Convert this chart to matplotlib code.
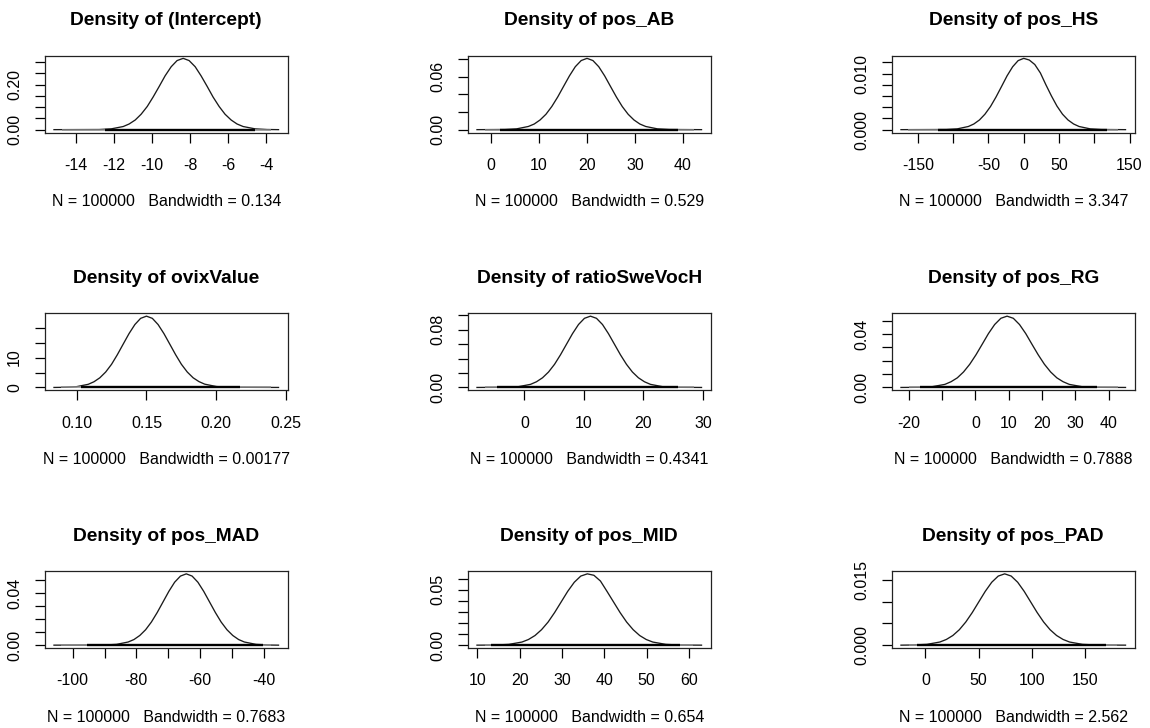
import matplotlib
matplotlib.use("Agg")
import matplotlib.pyplot as plt

plt.rcParams['font.family'] = ['Liberation Sans', 'DejaVu Sans']

# ---------------- data ----------------
titles = ["Density of (Intercept)", "Density of pos_AB", "Density of pos_HS",
          "Density of ovixValue", "Density of ratioSweVocH", "Density of pos_RG",
          "Density of pos_MAD", "Density of pos_MID", "Density of pos_PAD"]
n_iter = 100000
bandwidths = ["0.134", "0.529", "3.347", "0.00177", "0.4341", "0.7888",
              "0.7683", "0.654", "2.562"]

intercept_x = [-15.16, -12.78, -12.15, -11.52, -11.21, -10.89, -10.58, -10.26, -9.95, -9.63,
               -9.32, -9.00, -8.69, -8.37, -8.06, -7.74, -7.43, -7.11, -6.80, -6.48,
               -6.17, -5.85, -5.54, -5.22, -4.59, -3.96, -3.36]
intercept_y = [0.0, 0.0007, 0.0035, 0.0139, 0.0252, 0.0429, 0.0686, 0.1029, 0.1451, 0.1923,
               0.2393, 0.2798, 0.3072, 0.317, 0.3072, 0.2798, 0.2393, 0.1923, 0.1451, 0.1029,
               0.0686, 0.0429, 0.0252, 0.0139, 0.0035, 0.0007, 0.0]

ab_x = [-2.97, 2.85, 5.30, 7.75, 8.98, 10.20, 11.43, 12.65, 13.88, 15.10, 16.33, 17.55, 18.78,
        20.00, 21.23, 22.45, 23.68, 24.90, 26.13, 27.35, 28.58, 29.80, 31.03, 32.25, 34.70,
        37.15, 43.90]
ab_y = [0.0, 0.0002, 0.0009, 0.0036, 0.0064, 0.0110, 0.0175, 0.0263, 0.0371, 0.0491, 0.0611,
        0.0715, 0.0785, 0.0810, 0.0785, 0.0715, 0.0611, 0.0491, 0.0371, 0.0263, 0.0175,
        0.0110, 0.0064, 0.0036, 0.0009, 0.0002, 0.0]

hs_x = [-174.0, -109.9, -94.2, -78.5, -70.7, -62.8, -55.0, -47.1, -39.3, -31.4, -23.6, -15.7,
        -7.9, 0.0, 7.9, 15.7, 23.6, 31.4, 39.3, 47.1, 55.0, 62.8, 70.7, 78.5, 94.2, 109.9, 144.3]
hs_y = [0.0, 0.00003, 0.00014, 0.00056, 0.00101, 0.00172, 0.00275, 0.00412, 0.00581, 0.0077,
        0.00959, 0.0112, 0.0123, 0.0127, 0.0124, 0.0116, 0.0101, 0.0080, 0.0060, 0.0042,
        0.00275, 0.00172, 0.00101, 0.00056, 0.00014, 0.00003, 0.0]

ovix_x = [0.0838, 0.0916, 0.0999, 0.1083, 0.1124, 0.1166, 0.1208, 0.1250, 0.1291, 0.1333,
          0.1375, 0.1417, 0.1458, 0.1500, 0.1542, 0.1583, 0.1625, 0.1667, 0.1709, 0.1750,
          0.1792, 0.1834, 0.1876, 0.1917, 0.2001, 0.2084, 0.2445]
ovix_y = [0.0, 0.05, 0.26, 1.05, 1.90, 3.23, 5.17, 7.76, 10.94, 14.50, 18.04, 21.09, 23.16,
          23.90, 23.16, 21.09, 18.04, 14.50, 10.94, 7.76, 5.17, 3.23, 1.95, 1.10, 0.30, 0.06, 0.0]

swe_x = [-7.97, -3.00, -0.99, 1.03, 2.03, 3.04, 4.05, 5.06, 6.06, 7.07, 8.08, 9.09, 10.09,
         11.10, 12.11, 13.12, 14.12, 15.13, 16.14, 17.15, 18.15, 19.16, 20.17, 21.18, 23.19,
         25.21, 29.76]
swe_y = [0.0, 0.0002, 0.0011, 0.0043, 0.0079, 0.0134, 0.0214, 0.0321, 0.0453, 0.0600, 0.0747,
         0.0874, 0.0960, 0.0990, 0.0960, 0.0874, 0.0747, 0.0600, 0.0453, 0.0321, 0.0214,
         0.0134, 0.0079, 0.0043, 0.0011, 0.0002, 0.0]

rg_x = [-22.30, -16.61, -12.88, -9.15, -7.29, -5.42, -3.56, -1.69, 0.18, 2.04, 3.91, 5.77,
        7.64, 9.50, 11.37, 13.23, 15.10, 16.96, 18.83, 20.69, 22.56, 24.42, 26.29, 28.15,
        31.88, 35.61, 45.00]
rg_y = [0.0, 0.0001, 0.0006, 0.0023, 0.0043, 0.0072, 0.0116, 0.0174, 0.0245, 0.0324, 0.0404,
        0.0472, 0.0519, 0.0535, 0.0519, 0.0472, 0.0404, 0.0324, 0.0245, 0.0174, 0.0116,
        0.0072, 0.0043, 0.0023, 0.0006, 0.0001, 0.0]

mad_x = [-105.90, -89.89, -86.23, -82.58, -80.75, -78.92, -77.09, -75.27, -73.44, -71.61,
         -69.78, -67.96, -66.13, -64.30, -62.47, -60.65, -58.82, -56.99, -55.16, -53.34,
         -51.51, -49.68, -47.85, -46.03, -42.37, -38.72, -35.30]
mad_y = [0.0, 0.0001, 0.0006, 0.0024, 0.0043, 0.0074, 0.0118, 0.0177, 0.0250, 0.0331, 0.0412,
         0.0482, 0.0529, 0.0546, 0.0529, 0.0482, 0.0412, 0.0331, 0.0250, 0.0177, 0.0118,
         0.0074, 0.0043, 0.0024, 0.0006, 0.0001, 0.0]

mid_x = [9.90, 14.33, 17.43, 20.53, 22.07, 23.62, 25.17, 26.72, 28.26, 29.81, 31.36, 32.91,
         34.45, 36.00, 37.55, 39.10, 40.64, 42.19, 43.74, 45.29, 46.83, 48.38, 49.93, 51.48,
         54.57, 57.67, 63.00]
mid_y = [0.0, 0.0001, 0.0007, 0.0028, 0.0051, 0.0087, 0.0140, 0.0209, 0.0295, 0.0391, 0.0487,
         0.0569, 0.0625, 0.0645, 0.0632, 0.0580, 0.0487, 0.0391, 0.0295, 0.0209, 0.0140,
         0.0087, 0.0051, 0.0028, 0.0007, 0.0001, 0.0]

pad_x = [-22.80, -10.65, 1.50, 13.65, 19.73, 25.80, 31.88, 37.95, 44.03, 50.10, 56.18, 62.25,
         68.33, 74.40, 80.48, 86.55, 92.63, 98.70, 104.78, 110.85, 116.93, 123.00, 129.08,
         135.15, 147.30, 159.45, 187.60]
pad_y = [0.0, 0.00004, 0.00018, 0.00072, 0.00131, 0.00222, 0.00355, 0.00533, 0.00751, 0.00995,
         0.01238, 0.01447, 0.01589, 0.0164, 0.01589, 0.01447, 0.01238, 0.00995, 0.00751,
         0.00533, 0.00355, 0.00222, 0.00131, 0.00072, 0.00018, 0.00004, 0.0]

# rug extents: [data min, dense start, dense end, data max]
rug_intercept = [-14.76, -12.5, -4.6, -3.76]
rug_ab = [-1.4, 1.9, 39.0, 42.3]
rug_hs = [-164.0, -121.0, 118.0, 134.0]
rug_ovix = [0.0891, 0.103, 0.2167, 0.2392]
rug_swe = [-6.67, -4.6, 25.8, 28.46]
rug_rg = [-19.9, -16.5, 36.5, 42.6]
rug_mad = [-103.6, -95.6, -40.3, -37.6]
rug_mid = [11.9, 13.3, 58.0, 61.0]
rug_pad = [-15.1, -7.8, 169.0, 179.9]

# axis ticks / labels ('' = label suppressed, as in the reference)
xt_intercept = [-14, -12, -10, -8, -6, -4]
xl_intercept = ["-14", "-12", "-10", "-8", "-6", "-4"]
yt_intercept = [0.0, 0.05, 0.10, 0.15, 0.20, 0.25, 0.30]
yl_intercept = ["0.00", "", "", "", "0.20", "", ""]

xt_ab = [0, 10, 20, 30, 40]
xl_ab = ["0", "10", "20", "30", "40"]
yt_ab = [0.0, 0.02, 0.04, 0.06, 0.08]
yl_ab = ["0.00", "", "", "0.06", ""]

xt_hs = [-150, -100, -50, 0, 50, 100, 150]
xl_hs = ["-150", "", "-50", "0", "50", "", "150"]
yt_hs = [0.0, 0.002, 0.004, 0.006, 0.008, 0.010, 0.012]
yl_hs = ["0.000", "", "", "", "", "0.010", ""]

xt_ovix = [0.10, 0.15, 0.20, 0.25]
xl_ovix = ["0.10", "0.15", "0.20", "0.25"]
yt_ovix = [0, 5, 10, 15, 20]
yl_ovix = ["0", "", "10", "", ""]

xt_swe = [0, 10, 20, 30]
xl_swe = ["0", "10", "20", "30"]
yt_swe = [0.0, 0.02, 0.04, 0.06, 0.08, 0.10]
yl_swe = ["0.00", "", "", "", "0.08", ""]

xt_rg = [-20, -10, 0, 10, 20, 30, 40]
xl_rg = ["-20", "", "0", "10", "20", "30", "40"]
yt_rg = [0.0, 0.01, 0.02, 0.03, 0.04, 0.05]
yl_rg = ["0.00", "", "", "", "0.04", ""]

xt_mad = [-100, -90, -80, -70, -60, -50, -40]
xl_mad = ["-100", "", "-80", "", "-60", "", "-40"]
yt_mad = [0.0, 0.01, 0.02, 0.03, 0.04, 0.05]
yl_mad = ["0.00", "", "", "", "0.04", ""]

xt_mid = [10, 20, 30, 40, 50, 60]
xl_mid = ["10", "20", "30", "40", "50", "60"]
yt_mid = [0.0, 0.01, 0.02, 0.03, 0.04, 0.05, 0.06]
yl_mid = ["0.00", "", "", "", "", "0.05", ""]

xt_pad = [0, 50, 100, 150]
xl_pad = ["0", "50", "100", "150"]
yt_pad = [0.0, 0.005, 0.010, 0.015]
yl_pad = ["0.000", "", "", "0.015"]

panels = [
    (intercept_x, intercept_y, rug_intercept, xt_intercept, xl_intercept, yt_intercept, yl_intercept),
    (ab_x, ab_y, rug_ab, xt_ab, xl_ab, yt_ab, yl_ab),
    (hs_x, hs_y, rug_hs, xt_hs, xl_hs, yt_hs, yl_hs),
    (ovix_x, ovix_y, rug_ovix, xt_ovix, xl_ovix, yt_ovix, yl_ovix),
    (swe_x, swe_y, rug_swe, xt_swe, xl_swe, yt_swe, yl_swe),
    (rg_x, rg_y, rug_rg, xt_rg, xl_rg, yt_rg, yl_rg),
    (mad_x, mad_y, rug_mad, xt_mad, xl_mad, yt_mad, yl_mad),
    (mid_x, mid_y, rug_mid, xt_mid, xl_mid, yt_mid, yl_mid),
    (pad_x, pad_y, rug_pad, xt_pad, xl_pad, yt_pad, yl_pad),
]

# ---------------- layout ----------------
W, H = 1150, 728
fig = plt.figure(figsize=(W / 100, H / 100), dpi=100)
fig.patch.set_facecolor("white")

col_left = [45, 468, 892]
ax_w = 242.5
row_top = [55.5, 313.3, 571.0]
ax_h = 77.0

for i, (xs, ys, rug, xt, xl, yt, yl) in enumerate(panels):
    r, c = divmod(i, 3)
    left = col_left[c] / W
    bottom = 1 - (row_top[r] + ax_h) / H
    ax = fig.add_axes([left, bottom, ax_w / W, ax_h / H])

    ax.plot(xs, ys, color="#1a1a1a", lw=0.95, solid_joinstyle="round")
    # observation strip (rug)
    ax.plot([rug[0], rug[1]], [0, 0], color="#8c8c8c", lw=1.1, solid_capstyle="butt")
    ax.plot([rug[2], rug[3]], [0, 0], color="#8c8c8c", lw=1.1, solid_capstyle="butt")
    ax.plot([rug[1], rug[2]], [0, 0], color="black", lw=1.7, solid_capstyle="butt")

    w = xs[-1] - xs[0]
    ax.set_xlim(xs[0] - 0.04 * w, xs[-1] + 0.04 * w)
    m = max(ys)
    ax.set_ylim(-0.04 * m, 1.04 * m)

    ax.set_xticks(xt)
    ax.set_xticklabels(xl)
    ax.set_yticks(yt)
    ax.set_yticklabels(yl)
    ax.tick_params(axis="both", direction="out", length=7, width=0.9, colors="black",
                   labelsize=11.5)
    ax.tick_params(axis="x", pad=11.2)
    ax.tick_params(axis="y", pad=9.5, labelrotation=90)
    for t in ax.get_yticklabels():
        t.set_va("center")
    for s in ax.spines.values():
        s.set_linewidth(0.9)
        s.set_color("#222222")

    ax.set_title(titles[i], fontsize=13.8, fontweight="bold", pad=21.7)
    ax.set_xlabel(f"N = {n_iter}   Bandwidth = {bandwidths[i]}", fontsize=11.5,
                  va="baseline")
    ax.xaxis.set_label_coords(0.5, -73.75 / ax_h)

fig.savefig("out.png", dpi=100, facecolor="white")
